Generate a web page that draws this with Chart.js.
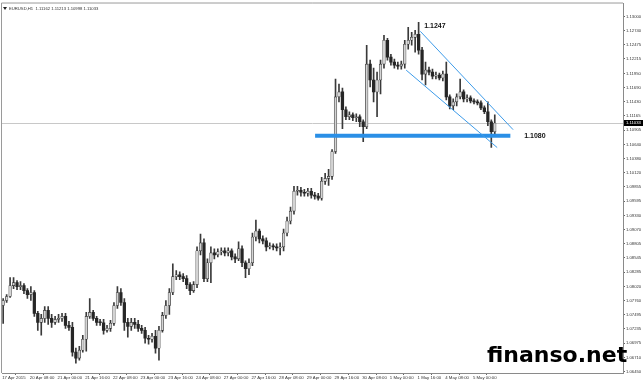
<!DOCTYPE html>
<html><head><meta charset="utf-8">
<script src="https://cdn.jsdelivr.net/npm/chart.js@4.4.1/dist/chart.umd.min.js"></script>
<style>html,body{margin:0;padding:0;background:#fff;overflow:hidden}canvas{display:block}</style>
</head><body>
<canvas id="c" width="643" height="382"></canvas>
<script>
// ---- data (2-hour candles, EURUSD) ----
const SYMBOL_TITLE = "EURUSD,H1  1.11162 1.11213 1.10998 1.11033";
const LAST_PRICE = 1.11033;
const X_LABELS = ["17 Apr 2015","20 Apr 08:00","21 Apr 00:00","21 Apr 16:00","22 Apr 08:00","23 Apr 00:00","23 Apr 16:00","24 Apr 08:00","27 Apr 00:00","27 Apr 16:00","28 Apr 08:00","29 Apr 00:00","29 Apr 16:00","30 Apr 08:00","1 May 00:00","1 May 16:00","4 May 08:00","5 May 00:00"];
const CANDLES_PER_LABEL = 8;
const Y_TICKS = [1.13000,1.12740,1.12475,1.12215,1.11950,1.11690,1.11430,1.11165,1.10905,1.10640,1.10380,1.10120,1.09855,1.09595,1.09330,1.09070,1.08805,1.08545,1.08285,1.08020,1.07760,1.07495,1.07235,1.06975,1.06710,1.06450];

const OPEN = [
1.07668,1.07760,1.07834,1.08035,1.08089,1.08016,1.08035,1.07943,1.07870,1.07907,
1.07522,1.07357,1.07430,1.07577,1.07430,1.07357,1.07412,1.07430,1.07467,1.07302,
1.07265,1.06807,1.06697,1.06844,1.07045,1.07467,1.07540,1.07430,1.07357,1.07350,
1.07210,1.07247,1.07339,1.07668,1.07907,1.07723,1.07357,1.07284,1.07357,1.07320,
1.07247,1.07210,1.07064,1.07045,1.07100,1.06881,1.07210,1.07485,1.07668,1.07907,
1.08200,1.08236,1.08200,1.08163,1.08053,1.07943,1.08053,1.08676,1.08823,1.08163,
1.08456,1.08639,1.08603,1.08658,1.08676,1.08639,1.08676,1.08566,1.08529,1.08713,
1.08456,1.08346,1.08456,1.08932,1.09042,1.08896,1.08859,1.08749,1.08768,1.08749,
1.08731,1.08749,1.09006,1.09226,1.09409,1.09775,1.09794,1.09757,1.09739,1.09775,
1.09702,1.09684,1.09647,1.09958,1.10013,1.10050,1.10508,1.11516,1.11607,1.11278,
1.11149,1.11186,1.11131,1.11149,1.11058,1.10966,1.12120,1.11827,1.11607,1.11827,
1.12120,1.12560,1.12248,1.12157,1.12102,1.12084,1.12120,1.12487,1.12560,1.12615,
1.12670,1.12377,1.11937,1.12010,1.11974,1.11900,1.11919,1.11864,1.11937,1.11516,
1.11351,1.11424,1.11516,1.11607,1.11479,1.11497,1.11442,1.11424,1.11406,1.11314,
1.11241,1.11058,1.10874];
const HIGH = [
1.07797,1.07870,1.08181,1.08181,1.08126,1.08108,1.08071,1.07980,1.08016,1.07943,
1.07559,1.07504,1.07650,1.07650,1.07504,1.07467,1.07504,1.07522,1.07522,1.07375,
1.07357,1.06881,1.06917,1.07119,1.07540,1.07797,1.07577,1.07467,1.07412,1.07412,
1.07302,1.07394,1.07723,1.08016,1.07980,1.07797,1.07430,1.07430,1.07430,1.07394,
1.07302,1.07265,1.07119,1.07155,1.07210,1.07284,1.07540,1.07760,1.07980,1.08438,
1.08310,1.08291,1.08255,1.08218,1.08089,1.08108,1.08749,1.08987,1.08896,1.08529,
1.08749,1.08713,1.08713,1.08731,1.08731,1.08731,1.08713,1.08621,1.08841,1.08768,
1.08493,1.08529,1.09006,1.09244,1.09079,1.08951,1.08914,1.08823,1.08804,1.08804,
1.08823,1.09079,1.09299,1.09482,1.09867,1.09867,1.09848,1.09812,1.09830,1.09830,
1.09757,1.09739,1.10032,1.10105,1.10178,1.10545,1.11845,1.11754,1.11680,1.11332,
1.11241,1.11222,1.11204,1.11186,1.11094,1.12468,1.12193,1.12047,1.11974,1.12193,
1.12651,1.12596,1.12303,1.12212,1.12157,1.12175,1.12560,1.12798,1.12706,1.12743,
1.12890,1.12432,1.12157,1.12065,1.12029,1.11974,1.11955,1.11992,1.12157,1.11552,
1.11479,1.11571,1.11845,1.11644,1.11552,1.11534,1.11479,1.11461,1.11442,1.11351,
1.11424,1.11094,1.11186];
const LOW = [
1.07339,1.07723,1.07815,1.07980,1.07961,1.07961,1.07888,1.07797,1.07760,1.07467,
1.07210,1.07119,1.07357,1.07320,1.07265,1.07320,1.07357,1.07375,1.07247,1.07210,
1.06734,1.06606,1.06661,1.06807,1.06825,1.07430,1.07394,1.07302,1.07302,1.07137,
1.07174,1.07192,1.07302,1.07613,1.07668,1.07210,1.07082,1.07210,1.07247,1.07192,
1.07155,1.06972,1.06954,1.06990,1.06789,1.06661,1.07174,1.07430,1.07504,1.07870,
1.08145,1.08145,1.08108,1.07980,1.07870,1.07907,1.07998,1.08603,1.08108,1.08108,
1.08089,1.08529,1.08566,1.08603,1.08584,1.08584,1.08511,1.08456,1.08493,1.08383,
1.08181,1.08236,1.08401,1.08859,1.08823,1.08804,1.08676,1.08713,1.08694,1.08676,
1.08603,1.08676,1.08951,1.09171,1.09354,1.09702,1.09684,1.09684,1.09684,1.09647,
1.09629,1.09610,1.09610,1.09903,1.09885,1.09995,1.10471,1.11424,1.10930,1.11094,
1.11094,1.11076,1.11058,1.10966,1.10691,1.10930,1.11699,1.11424,1.11149,1.11571,
1.12047,1.12193,1.12102,1.12047,1.12029,1.12029,1.12047,1.12395,1.12468,1.12340,
1.12303,1.11827,1.11735,1.11919,1.11845,1.11845,1.11827,1.11809,1.11461,1.11296,
1.11278,1.11351,1.11479,1.11424,1.11424,1.11406,1.11387,1.11369,1.11278,1.11204,
1.10984,1.10582,1.10801];
const CLOSE = [
1.07760,1.07834,1.08035,1.08089,1.08016,1.08035,1.07943,1.07870,1.07907,1.07522,
1.07357,1.07430,1.07577,1.07430,1.07357,1.07412,1.07430,1.07467,1.07302,1.07265,
1.06807,1.06697,1.06844,1.07045,1.07467,1.07540,1.07430,1.07357,1.07350,1.07210,
1.07247,1.07339,1.07668,1.07907,1.07723,1.07357,1.07284,1.07357,1.07320,1.07247,
1.07210,1.07064,1.07045,1.07100,1.06881,1.07210,1.07485,1.07668,1.07907,1.08200,
1.08236,1.08200,1.08163,1.08053,1.07943,1.08053,1.08676,1.08823,1.08163,1.08456,
1.08639,1.08603,1.08658,1.08676,1.08639,1.08676,1.08566,1.08529,1.08713,1.08456,
1.08346,1.08456,1.08932,1.09042,1.08896,1.08859,1.08749,1.08768,1.08749,1.08731,
1.08749,1.09006,1.09226,1.09409,1.09775,1.09794,1.09757,1.09739,1.09775,1.09702,
1.09684,1.09647,1.09958,1.10013,1.10050,1.10508,1.11516,1.11607,1.11278,1.11149,
1.11186,1.11131,1.11149,1.11058,1.10966,1.12120,1.11827,1.11607,1.11827,1.12120,
1.12560,1.12248,1.12157,1.12102,1.12084,1.12120,1.12487,1.12560,1.12615,1.12670,
1.12377,1.11937,1.12010,1.11974,1.11900,1.11919,1.11864,1.11937,1.11516,1.11351,
1.11424,1.11516,1.11607,1.11479,1.11497,1.11442,1.11424,1.11406,1.11314,1.11241,
1.11058,1.10874,1.11033];

// annotations (x in candle index units, y in price)
const SUPPORT_LEVEL = 1.1080;
const SUPPORT_SPAN = [90.1, 146.5];
const CHANNEL_UPPER = [[120.5, 1.12725], [147.3, 1.10911]];
const CHANNEL_LOWER = [[116.4, 1.12010], [142.7, 1.10581]];
const PEAK_LABEL = {text: "1.1247", x: 121.6, y: 1.12816};
const SUPPORT_LABEL = {text: "1.1080", x: 150.5, y: 1.1080};
const WATERMARK = "finanso.net";

// ---- chart ----
const SMALL = "'Liberation Sans', Arial, sans-serif";
const bull = i => CLOSE[i] >= OPEN[i];

const overlay = {
  id: 'overlay',
  beforeDatasetsDraw(chart) {
    const {ctx, chartArea: a, scales: {y}} = chart;
    const py = Math.round(y.getPixelForValue(LAST_PRICE)) + 0.5;
    ctx.save();
    ctx.strokeStyle = '#c8c8c8'; ctx.lineWidth = 1;
    ctx.beginPath(); ctx.moveTo(a.left, py); ctx.lineTo(a.right, py); ctx.stroke();
    ctx.restore();
  },
  afterDraw(chart) {
    const {ctx, chartArea: a, scales: {x, y}} = chart;
    ctx.save();
    // frame top / left
    ctx.strokeStyle = '#9a9a9a'; ctx.lineWidth = 1;
    ctx.beginPath();
    ctx.moveTo(a.left - 0.5, a.bottom); ctx.lineTo(a.left - 0.5, a.top - 0.5); ctx.lineTo(a.right, a.top - 0.5);
    ctx.stroke();
    // current price box
    const py = y.getPixelForValue(LAST_PRICE);
    ctx.fillStyle = '#000';
    ctx.fillRect(a.right + 1, Math.round(py) - 3, 19, 6);
    ctx.fillStyle = '#fff';
    ctx.font = "4.2px " + SMALL; ctx.textBaseline = 'middle'; ctx.textAlign = 'left';
    ctx.fillText(LAST_PRICE.toFixed(5), a.right + 3, Math.round(py));
    // title
    ctx.fillStyle = '#222';
    ctx.beginPath(); ctx.moveTo(a.left + 1, a.top + 3.5); ctx.lineTo(a.left + 5, a.top + 3.5); ctx.lineTo(a.left + 3, a.top + 6.5); ctx.closePath(); ctx.fill();
    ctx.fillStyle = '#333';
    ctx.fillText(SYMBOL_TITLE, a.left + 7, a.top + 5);
    // annotation labels
    ctx.fillStyle = '#111';
    ctx.font = "bold 7px " + SMALL;
    for (const l of [PEAK_LABEL, SUPPORT_LABEL]) {
      ctx.fillText(l.text, x.getPixelForValue(l.x), y.getPixelForValue(l.y));
    }
    // watermark
    ctx.fillStyle = '#000';
    ctx.font = "bold 22px 'DejaVu Sans', Verdana, sans-serif";
    ctx.textBaseline = 'alphabetic';
    ctx.fillText(WATERMARK, a.right - 136, a.bottom - 11);
    ctx.restore();
  }
};

new Chart(document.getElementById('c'), {
  type: 'bar',
  data: {
    datasets: [
      { type: 'line', data: CHANNEL_UPPER.map(p => ({x: p[0], y: p[1]})), borderColor: '#3d9be9', borderWidth: 1, pointRadius: 0, fill: false },
      { type: 'line', data: CHANNEL_LOWER.map(p => ({x: p[0], y: p[1]})), borderColor: '#3d9be9', borderWidth: 1, pointRadius: 0, fill: false },
      { type: 'line', data: SUPPORT_SPAN.map(v => ({x: v, y: SUPPORT_LEVEL})), borderColor: '#2a8fe6', borderWidth: 4, pointRadius: 0, fill: false, borderCapStyle: 'butt' },
      { label: 'body', grouped: false, barThickness: 2.6, minBarLength: 1,
        data: OPEN.map((o, i) => ({x: i, y: [Math.min(o, CLOSE[i]), Math.max(o, CLOSE[i])]})),
        backgroundColor: c => bull(c.dataIndex) ? '#d4d4d4' : '#262626',
        borderColor: '#303030', borderWidth: c => bull(c.dataIndex) ? 0.6 : 0, borderSkipped: false },
      { label: 'wick', grouped: false, barThickness: 1,
        data: OPEN.map((o, i) => ({x: i, y: [LOW[i], HIGH[i]]})),
        backgroundColor: '#3a3a3a', borderWidth: 0 }
    ]
  },
  options: {
    responsive: false, animation: false, devicePixelRatio: 1,
    layout: { padding: { left: 2, top: 1, right: 0, bottom: 0 } },
    plugins: { legend: { display: false }, tooltip: { enabled: false }, title: { display: false } },
    scales: {
      x: {
        type: 'linear', position: 'bottom', min: -0.34, max: 179.04, offset: false,
        grid: { drawOnChartArea: false, drawTicks: true, tickLength: 2, color: '#666' },
        border: { display: true, color: '#8a8a8a' },
        ticks: { autoSkip: false, maxRotation: 0, minRotation: 0, align: 'start', padding: 0,
          color: '#333', font: { size: 4.3, family: SMALL },
          callback: (v, i) => X_LABELS[i] },
        afterBuildTicks: s => { s.ticks = X_LABELS.map((_, m) => ({ value: m * CANDLES_PER_LABEL - 0.3 })); },
        afterFit: s => { s.height = 9; }
      },
      y: {
        type: 'linear', position: 'right', min: 1.06423, max: 1.13238,
        grid: { drawOnChartArea: false, drawTicks: true, tickLength: 2, color: '#666' },
        border: { display: true, color: '#8a8a8a' },
        ticks: { autoSkip: false, padding: 1, color: '#333', font: { size: 4.2, family: SMALL },
          callback: v => Number(v).toFixed(5) },
        afterBuildTicks: s => { s.ticks = Y_TICKS.map(v => ({ value: v })); },
        afterFit: s => { s.width = 20; }
      }
    }
  },
  plugins: [overlay]
});
</script>
</body></html>
